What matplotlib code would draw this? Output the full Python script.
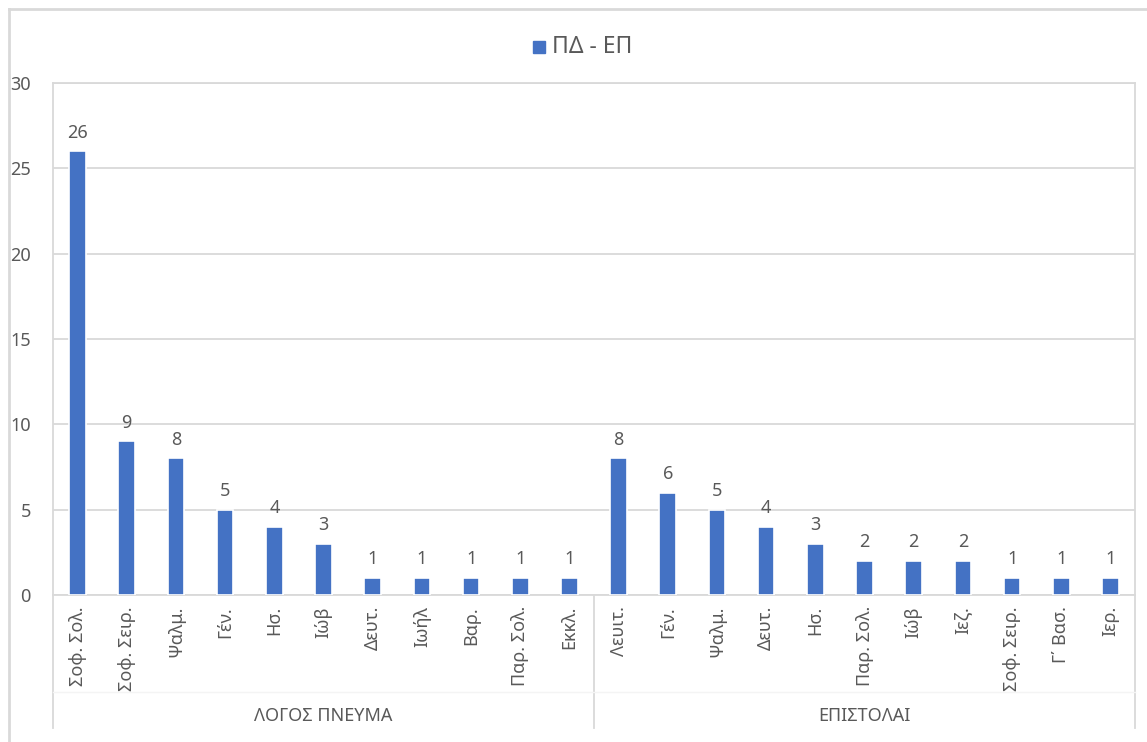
import matplotlib
matplotlib.use('Agg')
import matplotlib.pyplot as plt
from matplotlib.lines import Line2D
from matplotlib.patches import Rectangle

plt.rcParams['font.family'] = ['Noto Sans', 'DejaVu Sans']

# data
group_names = ['ΛΟΓΟΣ ΠΝΕΥΜΑ', 'ΕΠΙΣΤΟΛΑΙ']
logos_labels = ['Σοφ. Σολ.', 'Σοφ. Σειρ.', 'Ψαλμ.', 'Γέν.', 'Ησ.', 'Ιώβ',
                'Δευτ.', 'Ιωήλ', 'Βαρ.', 'Παρ. Σολ.', 'Εκκλ.']
logos_values = [26, 9, 8, 5, 4, 3, 1, 1, 1, 1, 1]
epist_labels = ['Λευιτ.', 'Γέν.', 'Ψαλμ.', 'Δευτ.', 'Ησ.', 'Παρ. Σολ.', 'Ιώβ',
                'Ιεζ.', 'Σοφ. Σειρ.', 'Γ΄ Βασ.', 'Ιερ.']
epist_values = [8, 6, 5, 4, 3, 2, 2, 2, 1, 1, 1]
series_name = 'ΠΔ - ΕΠ'
y_ticks = [0, 5, 10, 15, 20, 25, 30]

BLUE = '#4472C4'
GRID = '#d9d9d9'
TXT = '#595959'
FS = 13

labels = logos_labels + epist_labels
values = logos_values + epist_values
xs = list(range(len(values)))
n1 = len(logos_values)

fig = plt.figure(figsize=(11.47, 7.42), dpi=100)
W, H = 1147, 742
ax = fig.add_axes([53 / W, 1 - 595 / H, (1135 - 53) / W, (595 - 83) / H])

ax.bar(xs, values, width=0.34, color=BLUE, edgecolor='white',
       linewidth=1.2, zorder=3)
for x, v in zip(xs, values):
    ax.annotate(str(v), (x, v), xytext=(0, 7), textcoords='offset points',
                ha='center', va='bottom', fontsize=FS, color=TXT)

ax.set_xlim(-0.5, len(values) - 0.5)
ax.set_ylim(0, 30)
ax.set_yticks(y_ticks)
ax.set_yticklabels([str(t) for t in y_ticks], fontsize=FS, color=TXT)
ax.tick_params(axis='y', length=0, pad=16)
ax.yaxis.grid(True, color=GRID, linewidth=1.3, zorder=0)
ax.set_axisbelow(True)

ax.set_xticks(xs)
ax.set_xticklabels(labels, rotation=90, fontsize=FS, color=TXT, va='top')
ax.tick_params(axis='x', length=0, pad=8)

for s in ['left', 'right', 'bottom', 'top']:
    ax.spines[s].set_color(GRID)
    ax.spines[s].set_linewidth(1.3)

# category dividers for the two-level axis
low = -(728 - 595) / (595 - 83)
mid = (692 - 595) / (595 - 83)
for xd in [0.0, n1 / len(values), 1.0]:
    ax.add_line(Line2D([xd, xd], [low, 0], transform=ax.transAxes,
                       color=GRID, linewidth=1.3, clip_on=False))
ax.add_line(Line2D([0, 1], [-mid, -mid], transform=ax.transAxes,
                   color='#f4f4f4', linewidth=1.0, clip_on=False))

gy = -(716 - 595) / (595 - 83)
ax.text(n1 / 2 / len(values), gy, group_names[0], transform=ax.transAxes,
        ha='center', va='center', fontsize=FS, color=TXT)
ax.text((n1 + len(values)) / 2 / len(values), gy, group_names[1],
        transform=ax.transAxes, ha='center', va='center', fontsize=FS, color=TXT)

# legend
fig.patches.append(Rectangle((533 / W, 1 - 53 / H), 12 / W, 12 / H,
                             transform=fig.transFigure, color=BLUE))
fig.text(552 / W, 1 - 47 / H, series_name, ha='left', va='center',
         fontsize=16.5, color=TXT)

# chart area border
fig.add_artist(Line2D([9 / W, 9 / W], [0, 1 - 9 / H], color=GRID, linewidth=2))
fig.add_artist(Line2D([9 / W, 1], [1 - 9 / H, 1 - 9 / H], color=GRID, linewidth=2))

fig.savefig('out.png', dpi=100, facecolor='white')
plt.close(fig)
